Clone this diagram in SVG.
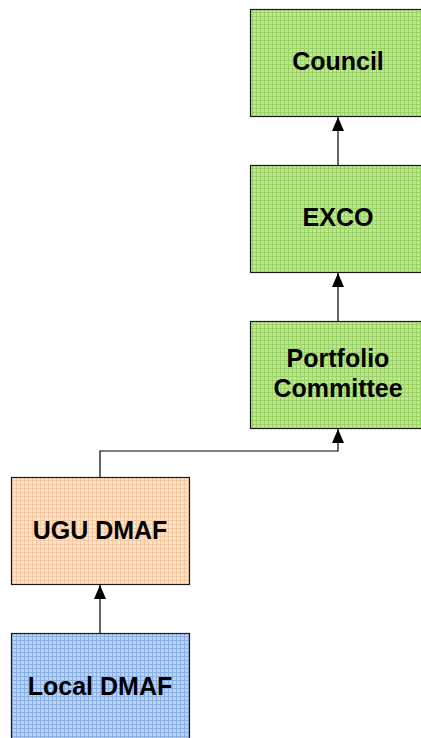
<svg xmlns="http://www.w3.org/2000/svg" width="421" height="738" viewBox="0 0 421 738">
  <style>
    .box { stroke: #1a1a1a; stroke-width: 1.2; }
    .label { font-family: "Liberation Sans", Arial, sans-serif; font-weight: bold; font-size: 25px; fill: #000; text-anchor: middle; }
    .conn { fill: none; stroke: #000; stroke-width: 1.2; }
  </style>
  <defs>
    <!-- fine checked grid fills -->
    <pattern id="gridGreen" width="8" height="8" patternUnits="userSpaceOnUse">
      <rect width="8" height="8" fill="#bfe496"/>
      <path d="M0 0.5H8M0 4.5H8M0.5 0V8M4.5 0V8" stroke="#9bd266" stroke-width="1"/>
    </pattern>
    <pattern id="gridOrange" width="8" height="8" patternUnits="userSpaceOnUse">
      <rect width="8" height="8" fill="#fde3cd"/>
      <path d="M0 0.5H8M0 4.5H8M0.5 0V8M4.5 0V8" stroke="#f6c8a0" stroke-width="1"/>
    </pattern>
    <pattern id="gridBlue" width="8" height="8" patternUnits="userSpaceOnUse">
      <rect width="8" height="8" fill="#bcd3f2"/>
      <path d="M0 0.5H8M0 4.5H8M0.5 0V8M4.5 0V8" stroke="#88aee4" stroke-width="1"/>
    </pattern>
    <!-- solid triangular arrowhead, tip at the line end -->
    <marker id="arrow" viewBox="0 0 14 12" refX="14" refY="6" markerWidth="14" markerHeight="12" markerUnits="userSpaceOnUse" orient="auto">
      <path d="M0 0L14 6L0 12Z" fill="#000"/>
    </marker>
  </defs>

  <g id="connectors">
    <path class="conn" d="M338 166V117" marker-end="url(#arrow)"/>
    <path class="conn" d="M338 322V273" marker-end="url(#arrow)"/>
    <path class="conn" d="M100 478V451H338V429" marker-end="url(#arrow)"/>
    <path class="conn" d="M100 634V585" marker-end="url(#arrow)"/>
  </g>

  <g id="council">
    <rect class="box" x="250.5" y="9.5" width="175" height="107" fill="url(#gridGreen)"/>
    <text class="label" x="338" y="70">Council</text>
  </g>
  <g id="exco">
    <rect class="box" x="250.5" y="165.5" width="175" height="107" fill="url(#gridGreen)"/>
    <text class="label" x="338" y="226">EXCO</text>
  </g>
  <g id="portfolio-committee">
    <rect class="box" x="250.5" y="321.5" width="175" height="107" fill="url(#gridGreen)"/>
    <text class="label" x="338" y="367">Portfolio</text>
    <text class="label" x="338" y="397">Committee</text>
  </g>
  <g id="ugu-dmaf">
    <rect class="box" x="11.5" y="477.5" width="178" height="107" fill="url(#gridOrange)"/>
    <text class="label" x="100" y="539">UGU DMAF</text>
  </g>
  <g id="local-dmaf">
    <rect class="box" x="11.5" y="633.5" width="178" height="110" fill="url(#gridBlue)"/>
    <text class="label" x="100" y="695">Local DMAF</text>
  </g>
</svg>
